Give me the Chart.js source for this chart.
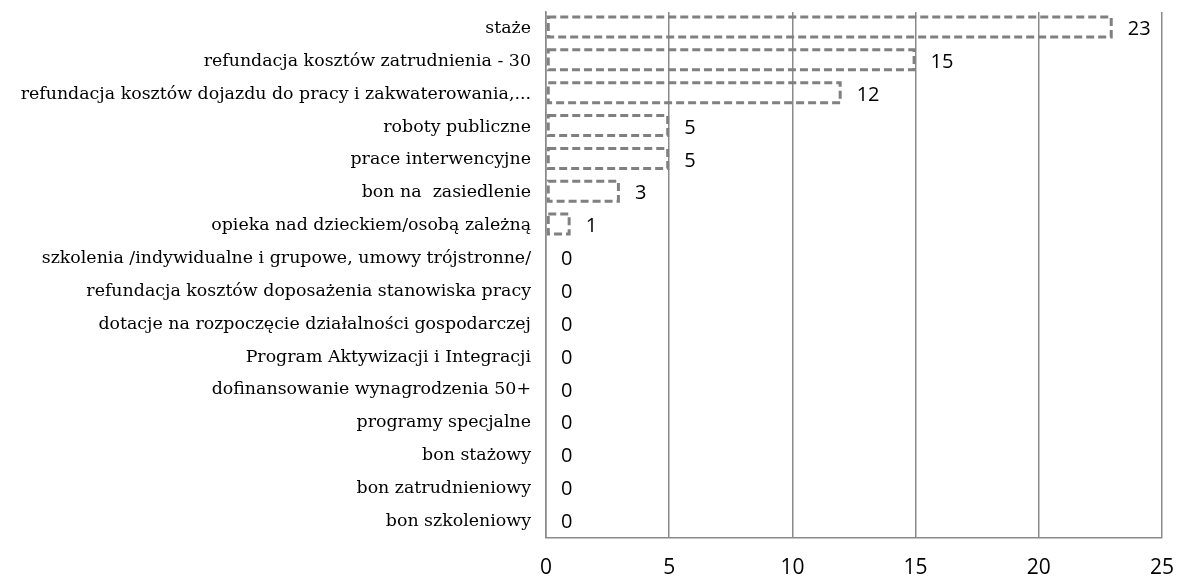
<!DOCTYPE html>
<html>
<head>
<meta charset="utf-8">
<script src="https://cdn.jsdelivr.net/npm/chart.js@4"></script>
<style>
  body { margin: 0; background: #fff; }
  #wrap { width: 1182px; height: 583px; }
</style>
</head>
<body>
<div id="wrap"><canvas id="chart"></canvas></div>
<script>
const categories = [
  "staże",
  "refundacja kosztów zatrudnienia - 30",
  "refundacja kosztów dojazdu do pracy i zakwaterowania,...",
  "roboty publiczne",
  "prace interwencyjne",
  "bon na  zasiedlenie",
  "opieka nad dzieckiem/osobą zależną",
  "szkolenia /indywidualne i grupowe, umowy trójstronne/",
  "refundacja kosztów doposażenia stanowiska pracy",
  "dotacje na rozpoczęcie działalności gospodarczej",
  "Program Aktywizacji i Integracji",
  "dofinansowanie wynagrodzenia 50+",
  "programy specjalne",
  "bon stażowy",
  "bon zatrudnieniowy",
  "bon szkoleniowy"
];
const values = [23, 15, 12, 5, 5, 3, 1, 0, 0, 0, 0, 0, 0, 0, 0, 0];
const xMin = 0;
const xMax = 25;
const xStep = 5;

const gridColor = "#8a8a8a";
const barLine = "#808080";

// bars are stroked dashed by hand, Chart.js fills bars instead of stroking them
const dashedBars = {
  id: "dashedBars",
  afterDatasetsDraw(chart) {
    const ctx = chart.ctx;
    const meta = chart.getDatasetMeta(0);
    ctx.save();
    meta.data.forEach((bar, i) => {
      const p = bar.getProps(["x", "y", "base", "height"], true);
      const v = values[i];
      if (v > 0) {
        ctx.strokeStyle = barLine;
        ctx.lineWidth = 3;
        ctx.setLineDash([8, 4]);
        const top = p.y - p.height / 2;
        ctx.strokeRect(p.base + 1.5, top, p.x - p.base - 3, p.height - 3);
      }
      ctx.fillStyle = "#000";
      ctx.font = "20px 'Open Sans'";
      ctx.textBaseline = "middle";
      ctx.textAlign = "left";
      ctx.fillText(String(v), p.x + 15, p.y + 1);
    });
    ctx.restore();
  }
};

new Chart(document.getElementById("chart"), {
  type: "bar",
  data: {
    labels: categories,
    datasets: [{
      data: values,
      backgroundColor: "rgba(0,0,0,0)",
      borderWidth: 0,
      categoryPercentage: 1,
      barPercentage: 0.7
    }]
  },
  options: {
    indexAxis: "y",
    responsive: true,
    maintainAspectRatio: false,
    animation: false,
    // x axis reserves its tick padding twice, hence the negative bottom
    layout: { padding: { top: 12, right: 20, bottom: -16, left: 0 } },
    plugins: {
      legend: { display: false },
      tooltip: { enabled: false }
    },
    scales: {
      x: {
        min: xMin,
        max: xMax,
        afterFit(scale) { scale.paddingLeft = 0; scale.paddingRight = 0; },
        ticks: {
          stepSize: xStep,
          padding: 18,
          color: "#000",
          font: { family: "'Open Sans'", size: 21 }
        },
        grid: { color: gridColor, lineWidth: 1.5, drawTicks: false },
        border: { color: gridColor, width: 1.5 }
      },
      y: {
        afterFit(scale) {
          scale.width = 546;
          scale.paddingTop = 0;
          scale.paddingBottom = 0;
        },
        ticks: {
          padding: 15,
          color: "#000",
          autoSkip: false,
          font: { family: "'DejaVu Serif'", size: 17.4 }
        },
        grid: { display: false, drawTicks: false },
        border: { color: gridColor, width: 1.5 }
      }
    }
  },
  plugins: [dashedBars]
});
</script>
</body>
</html>
